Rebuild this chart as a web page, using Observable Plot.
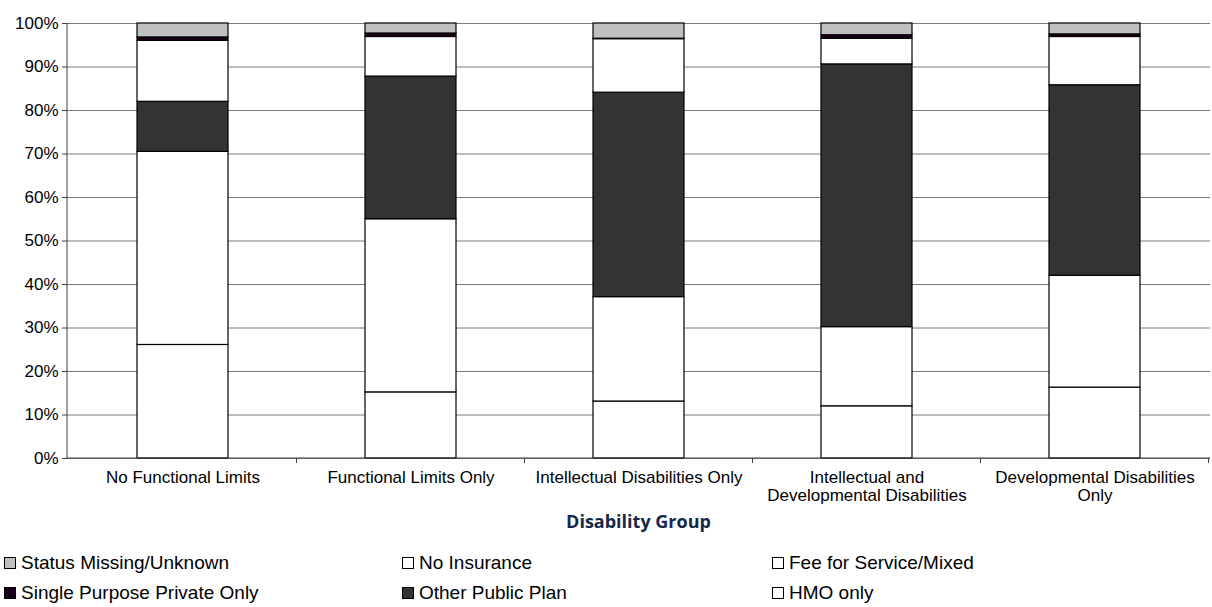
<!DOCTYPE html>
<html><head><meta charset="utf-8">
<script src="https://cdn.jsdelivr.net/npm/d3@7"></script>
<script src="https://cdn.jsdelivr.net/npm/@observablehq/plot@0.6"></script>
<style>
body{margin:0;background:#fff;font-family:"Liberation Sans",Arial,sans-serif;}
#wrap{position:relative;width:1212px;height:607px;overflow:hidden;}
#chart svg{display:block;}
#title{position:absolute;left:67px;width:1143px;top:509px;text-align:center;font-family:"Open Sans",Lato,sans-serif;font-weight:bold;font-size:18px;line-height:24px;color:#14284b;}
.leg{position:absolute;display:flex;align-items:center;font-size:19px;line-height:24px;color:#000;white-space:nowrap;}
.sw{width:12px;height:12px;border:1px solid #000;margin-right:5px;box-sizing:border-box;}
</style></head><body>
<div id="wrap"><div id="chart"></div><div id="title">Disability Group</div><div id="legend"></div></div>
<script>
const categories = ["No Functional Limits","Functional Limits Only","Intellectual Disabilities Only","Intellectual and Developmental Disabilities","Developmental Disabilities Only"];
const tickLabels = ["No Functional Limits","Functional Limits Only","Intellectual Disabilities Only","Intellectual and\nDevelopmental Disabilities","Developmental Disabilities\nOnly"];
// series listed bottom to top of each stack
const seriesNames = ["HMO only","Fee for Service/Mixed","Other Public Plan","No Insurance","Single Purpose Private Only","Status Missing/Unknown"];
const seriesColors = ["#ffffff","#ffffff","#333333","#ffffff","#1c0019","#c0c0c0"];
const hmoOnly        = [26.1, 15.2, 13.1, 12.0, 16.3];
const feeForService  = [44.4, 39.8, 24.0, 18.2, 25.7];
const otherPublic    = [11.5, 32.8, 47.0, 60.4, 43.8];
const noInsurance    = [14.0,  9.1, 12.3,  5.9, 11.1];
const singlePurpose  = [ 0.8,  0.8,  0.1,  0.8,  0.6];
const statusMissing  = [ 3.2,  2.3,  3.5,  2.7,  2.5];
const yTicks = [0,10,20,30,40,50,60,70,80,90,100];
const legendOrder = ["Status Missing/Unknown","No Insurance","Fee for Service/Mixed","Single Purpose Private Only","Other Public Plan","HMO only"];

const seriesValues = [hmoOnly, feeForService, otherPublic, noInsurance, singlePurpose, statusMissing];
const table = [];
seriesNames.forEach((s, i) => categories.forEach((c, j) => table.push({category: c, series: s, value: seriesValues[i][j]})));

function axisLines(index, scales, values, dims) {
  const {x, y} = scales;
  const left = dims.marginLeft, right = dims.width - dims.marginRight;
  const y0 = y(0);
  const g = d3.create("svg:g").attr("fill", "none");
  g.append("line").attr("x1", left).attr("x2", left).attr("y1", y(100)).attr("y2", y0).attr("stroke", "#404040");
  g.append("line").attr("x1", left).attr("x2", right).attr("y1", y0).attr("y2", y0).attr("stroke", "#404040");
  const step = x(categories[1]) - x(categories[0]);
  const bw = typeof x.bandwidth === "number" ? x.bandwidth : (typeof x.bandwidth === "function" ? x.bandwidth() : step * 0.4);
  categories.forEach(c => {
    const bx = x(c) + bw / 2 + step / 2;
    g.append("line").attr("x1", bx).attr("x2", bx).attr("y1", y0).attr("y2", y0 + 5).attr("stroke", "#404040");
  });
  return g.node();
}

const chart = Plot.plot({
  width: 1212, height: 505,
  marginLeft: 67, marginRight: 2, marginTop: 23, marginBottom: 47,
  style: {fontFamily: "'Liberation Sans', Arial, sans-serif", fontSize: "17px", color: "#000", background: "#fff"},
  x: {domain: categories, paddingInner: 0.6, paddingOuter: 0.3, axis: null},
  y: {domain: [0, 100], axis: null},
  color: {domain: seriesNames, range: seriesColors},
  marks: [
    Plot.ruleY(yTicks, {stroke: "#7a7a7a", strokeWidth: 1}),
    Plot.barY(table, {x: "category", y: "value", fill: "series", stroke: "#000", strokeWidth: 1.2}),
    Plot.axisY(yTicks, {tickSize: 5, tickPadding: 4, tickFormat: d => d + "%", fontSize: 17, stroke: "#404040", fill: "#000", label: null}),
    Plot.axisX({tickSize: 0, tickPadding: 12, fontSize: 17, lineHeight: 1.05, tickFormat: d => tickLabels[categories.indexOf(d)], fill: "#000", label: null}),
    axisLines
  ]
});
document.getElementById("chart").appendChild(chart);

const legendCols = [4, 402, 772];
const legendRows = [551, 581];
const legend = document.getElementById("legend");
legendOrder.forEach((name, k) => {
  const col = k % 3, row = Math.floor(k / 3);
  const item = document.createElement("div");
  item.className = "leg";
  item.style.left = legendCols[col] + "px";
  item.style.top = legendRows[row] + "px";
  const sw = document.createElement("div");
  sw.className = "sw";
  sw.style.background = seriesColors[seriesNames.indexOf(name)];
  item.appendChild(sw);
  item.appendChild(document.createTextNode(name));
  legend.appendChild(item);
});
</script>
</body></html>
